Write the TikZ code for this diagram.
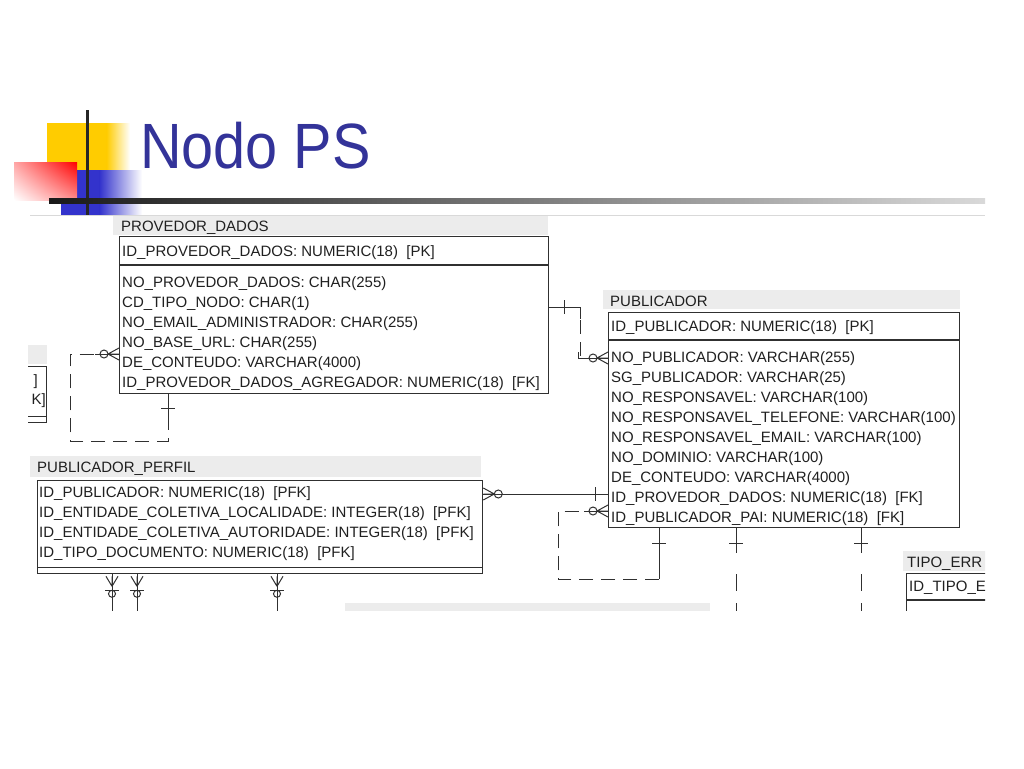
\documentclass[tikz,border=0pt]{standalone}
\usepackage{fontspec}
\setmainfont{Liberation Sans}
\usetikzlibrary{calc,shadings}
\definecolor{titleblue}{HTML}{333399}
\definecolor{logoyellow}{HTML}{FFCC00}
\definecolor{logoblue}{HTML}{3333CC}
\definecolor{hdrgray}{HTML}{ECECEC}
\definecolor{lineg}{HTML}{303030}
\definecolor{textg}{HTML}{202020}
\tikzset{
  hdr/.style={fill=hdrgray, draw=none, anchor=north west, inner sep=0pt},
  tbl/.style={draw=lineg, line width=1.3pt, fill=white, inner sep=0pt},
  txt/.style={anchor=west, inner sep=0pt, font=\fontsize{15}{18}\selectfont, text=textg, text height=12pt, text depth=2pt},
  rel/.style={draw=lineg, line width=1pt},
  drel/.style={rel, dash pattern=on 14pt off 8pt},
  lrel/.style={rel, dash pattern=on 17pt off 12pt},
  zmany/.pic={\draw[rel] (-11,0) -- (0,-6) (-11,0) -- (0,0) (-11,0) -- (0,6);
              \draw[rel] (-15,0) circle[radius=4];},
  omany/.pic={\draw[rel] (-10,0) -- (0,-6) (-10,0) -- (0,0) (-10,0) -- (0,6);
              \draw[rel] (-14,-7) -- (-14,7);
              \draw[rel] (-17.5,0) circle[radius=3.5];},
  onetick/.pic={\draw[rel] (0,-7) -- (0,7);}
}
\begin{document}
\begin{tikzpicture}[x=1pt,y=-1pt]
\useasboundingbox[fill=white] (0,0) rectangle (1024,768);

% ---------- logo ----------
\fill[logoyellow] (47,123) rectangle (107,170);
\shade[left color=logoyellow, right color=white] (106.5,123) rectangle (130,170);
\fill[logoblue] (61,170) rectangle (100,215);
\shade[left color=logoblue, right color=white] (99.5,170) rectangle (142,215);
\shade[upper left=red!35!white, upper right=red, lower left=white, lower right=red!45!white] (14,162) rectangle (77,200);
\fill[black!85] (86,110) rectangle (89,215);
\shade[left color=black!90, right color=black!15] (49,198) rectangle (985,203);
\draw[black!15, line width=1pt] (30,215.5) -- (985,215.5);
\node[anchor=base west, inner sep=0pt, xscale=0.9, text=titleblue, font=\fontsize{64}{70}\selectfont] (title) at (140,168) {Nodo PS};

% ---------- diagram ----------
\begin{scope}
\clip (28,216) rectangle (985,610);

% left fragment table
\fill[hdrgray] (20,345) rectangle (47,364);
\node[tbl, anchor=north east, minimum width=60pt, minimum height=56pt] (lf) at (47,366) {};
\draw[lineg, line width=1.3pt] ($(lf.south west)+(0,-7)$) -- ($(lf.south east)+(0,-7)$);
\node[txt, anchor=east] (lf1) at (38,380) {]};
\node[txt, anchor=east] (lf2) at (46,399) {K]};

% PROVEDOR_DADOS
\node[hdr, minimum width=435pt, minimum height=19pt] (pdH) at (113,216) {};
\node[txt] (pdT) at (121,226) {PROVEDOR\_DADOS};
\node[tbl, anchor=north west, minimum width=429pt, minimum height=157pt] (pd) at (119,236) {};
\draw[lineg, line width=1.3pt] ($(pd.north west)+(0,29)$) -- ($(pd.north east)+(0,29)$);
\node[txt] (pd0) at (122,251) {ID\_PROVEDOR\_DADOS: NUMERIC(18)~~[PK]};
\node[txt] (pd1) at (122,282) {NO\_PROVEDOR\_DADOS: CHAR(255)};
\node[txt] (pd2) at (122,302) {CD\_TIPO\_NODO: CHAR(1)};
\node[txt] (pd3) at (122,322) {NO\_EMAIL\_ADMINISTRADOR: CHAR(255)};
\node[txt] (pd4) at (122,342) {NO\_BASE\_URL: CHAR(255)};
\node[txt] (pd5) at (122,362) {DE\_CONTEUDO: VARCHAR(4000)};
\node[txt] (pd6) at (122,382) {ID\_PROVEDOR\_DADOS\_AGREGADOR: NUMERIC(18)~~[FK]};

% PUBLICADOR
\node[hdr, minimum width=357pt, minimum height=19pt] (pubH) at (603,290) {};
\node[txt] (pubT) at (610,301) {PUBLICADOR};
\node[tbl, anchor=north west, minimum width=351pt, minimum height=215pt] (pub) at (608,312) {};
\draw[lineg, line width=1.3pt] ($(pub.north west)+(0,28)$) -- ($(pub.north east)+(0,28)$);
\node[txt] (pub0) at (611,326) {ID\_PUBLICADOR: NUMERIC(18)~~[PK]};
\node[txt] (pub1) at (611,357) {NO\_PUBLICADOR: VARCHAR(255)};
\node[txt] (pub2) at (611,377) {SG\_PUBLICADOR: VARCHAR(25)};
\node[txt] (pub3) at (611,397) {NO\_RESPONSAVEL: VARCHAR(100)};
\node[txt] (pub4) at (611,417) {NO\_RESPONSAVEL\_TELEFONE: VARCHAR(100)};
\node[txt] (pub5) at (611,437) {NO\_RESPONSAVEL\_EMAIL: VARCHAR(100)};
\node[txt] (pub6) at (611,457) {NO\_DOMINIO: VARCHAR(100)};
\node[txt] (pub7) at (611,477) {DE\_CONTEUDO: VARCHAR(4000)};
\node[txt] (pub8) at (611,497) {ID\_PROVEDOR\_DADOS: NUMERIC(18)~~[FK]};
\node[txt] (pub9) at (611,517) {ID\_PUBLICADOR\_PAI: NUMERIC(18)~~[FK]};

% PUBLICADOR_PERFIL
\node[hdr, minimum width=451pt, minimum height=21pt] (ppH) at (30,456) {};
\node[txt] (ppT) at (37,467) {PUBLICADOR\_PERFIL};
\node[tbl, anchor=north west, minimum width=445pt, minimum height=93pt] (pp) at (37,480) {};
\draw[lineg, line width=1.3pt] ($(pp.south west)+(0,-7)$) -- ($(pp.south east)+(0,-7)$);
\node[txt] (pp0) at (39,492) {ID\_PUBLICADOR: NUMERIC(18)~~[PFK]};
\node[txt] (pp1) at (39,512) {ID\_ENTIDADE\_COLETIVA\_LOCALIDADE: INTEGER(18)~~[PFK]};
\node[txt] (pp2) at (39,532) {ID\_ENTIDADE\_COLETIVA\_AUTORIDADE: INTEGER(18)~~[PFK]};
\node[txt] (pp3) at (39,552) {ID\_TIPO\_DOCUMENTO: NUMERIC(18)~~[PFK]};

% TIPO_ERR (clipped)
\node[hdr, minimum width=90pt, minimum height=20pt] (teH) at (903,551) {};
\node[txt] (teT) at (907,562) {TIPO\_ERR};
\node[tbl, anchor=north west, minimum width=120pt, minimum height=60pt] (te) at (906,573) {};
\draw[lineg, line width=1.3pt] ($(te.north west)+(0,27)$) -- ($(te.north east)+(0,27)$);
\node[txt] (te0) at (909,586) {ID\_TIPO\_E};

% bottom header band (clipped)
\fill[hdrgray] (345,603) rectangle (710,612);

% ---------- connectors ----------
% C1: PROVEDOR_DADOS self relation
\coordinate (pdS1) at ($(pd.south west)+(49,0)$);
\coordinate (pdW1) at ($(pd.north west)+(0,118)$);
\draw[drel] (pdS1) -- ($(pdS1)+(0,47)$) -| ($(pdW1)+(-49,0)$) -- (pdW1);
\draw[rel] (pdS1) -- ++(0,24);
\draw[rel] (pdW1) -- ++(-24,0);
\pic at ($(pdS1)+(0,14)$) [rotate=90] {onetick};
\pic at (pdW1) {zmany};

% C2: PROVEDOR_DADOS -> PUBLICADOR
\coordinate (pdE1) at ($(pd.north east)+(0,71)$);
\coordinate (pubW1) at ($(pub.north west)+(0,46)$);
\draw[drel] (pdE1) -- ++(31,0) |- (pubW1);
\draw[rel] (pdE1) -- ++(31,0) -- ++(0,12);
\draw[rel] (pubW1) -- ++(-30,0) -- ++(0,-6);
\pic at ($(pdE1)+(15,0)$) {onetick};
\pic at (pubW1) {zmany};

% C3: PUBLICADOR_PERFIL -> PUBLICADOR
\coordinate (ppE1) at ($(pp.north east)+(0,14)$);
\coordinate (pubW2) at ($(pub.north west)+(0,182)$);
\draw[rel] (ppE1) -- (pubW2);
\pic at (ppE1) [rotate=180] {zmany};
\pic at ($(pubW2)+(-13,0)$) {onetick};

% C4: PUBLICADOR self relation
\coordinate (pubS1) at ($(pub.south west)+(51,0)$);
\coordinate (pubW3) at ($(pub.north west)+(0,199)$);
\draw[rel] (pubS1) -- ($(pubS1)+(0,51)$);
\draw[drel] ($(pubS1)+(0,51)$) -| ($(pubW3)+(-50,0)$) -- ($(pubW3)+(-22,0)$);
\draw[rel] ($(pubW3)+(-24,0)$) -- (pubW3);
\pic at ($(pubS1)+(0,15)$) [rotate=90] {onetick};
\pic at (pubW3) {zmany};

% C5, C6: PUBLICADOR downwards
\coordinate (pubS2) at ($(pub.south west)+(128,0)$);
\coordinate (pubS3) at ($(pub.south west)+(253,0)$);
\foreach \p in {pubS2,pubS3}{
  \draw[rel] (\p) -- ($(\p)+(0,25)$);
  \draw[lrel] ($(\p)+(0,46)$) -- ($(\p)+(0,90)$);
  \pic at ($(\p)+(0,15)$) [rotate=90] {onetick};
}

% C7: PUBLICADOR_PERFIL downwards
\coordinate (ppS1) at ($(pp.south west)+(75,0)$);
\coordinate (ppS2) at ($(pp.south west)+(100,0)$);
\coordinate (ppS3) at ($(pp.south west)+(240,0)$);
\foreach \p in {ppS1,ppS2,ppS3}{
  \draw[rel] (\p) -- ($(\p)+(0,40)$);
  \pic at ($(\p)+(0,2)$) [rotate=90] {omany};
}
\end{scope}
\end{tikzpicture}
\end{document}
